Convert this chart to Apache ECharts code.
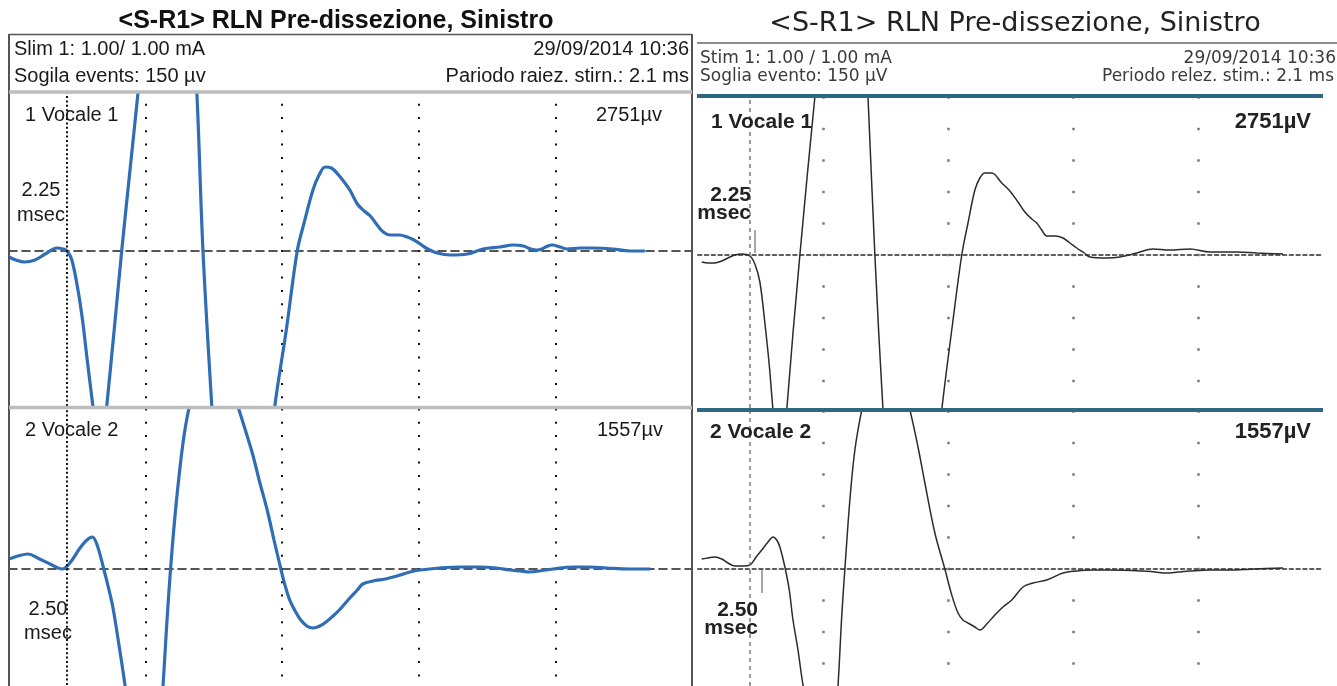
<!DOCTYPE html>
<html>
<head>
<meta charset="utf-8">
<script src="https://cdn.jsdelivr.net/npm/echarts@6/dist/echarts.min.js"></script>
<style>
html,body{margin:0;padding:0;background:#fff;}
#chart{width:1337px;height:686px;}
</style>
</head>
<body>
<div id="chart"></div>
<script>
// ---------------- text ----------------
const chartTitle = '<S-R1> RLN Pre-dissezione, Sinistro';
const leftHeader = ['Slim 1: 1.00/ 1.00 mA', '29/09/2014 10:36', 'Sogila events: 150 µv', 'Pariodo raiez. stirn.: 2.1 ms'];
const rightHeader = ['Stim 1: 1.00 / 1.00 mA', '29/09/2014 10:36', 'Soglia evento: 150 µV', 'Periodo relez. stim.: 2.1 ms'];
const channelNames = ['1 Vocale 1', '2 Vocale 2'];
const latencyLabels = ['2.25', '2.50'];
const latencyUnit = 'msec';
const amplitudeLeft = ['2751µv', '1557µv'];
const amplitudeRight = ['2751µV', '1557µV'];

// ---------------- axes (time in ms, amplitude in µV) ----------------
const timeMin = 0, timeMax = 10, timeDivision = 2;
const markerMsLeft = 0.85;
const markerMsRight = 0.83;
// short cursor ticks on the scanned recording: [time, from µV, to µV]
const cursorMarksRight = [[0.90, 250, 20], [1.02, -10, -240]];

// ---------------- traces [ms, µV] ----------------
const leftTopTrace = [
[0.00,-60],[0.10,-90],[0.23,-110],[0.38,-90],[0.53,-30],[0.70,30],[0.79,20],[0.85,0],[0.92,-90],[1.01,-390],
[1.08,-710],[1.14,-1060],[1.23,-1560],[1.29,-1890],[1.33,-2010],[1.38,-1890],[1.43,-1560],[1.54,-790],[1.65,0],
[1.77,800],[1.89,1590],[2.00,2360],[2.14,3110],[2.25,3610],[2.36,3810],[2.46,3710],[2.56,3310],[2.65,2710],
[2.75,1590],[2.84,0],[2.97,-1560],[3.06,-2490],[3.18,-3290],[3.35,-3690],[3.53,-3490],[3.70,-2690],[3.89,-1560],
[4.06,-790],[4.22,0],[4.32,280],[4.45,610],[4.54,760],[4.63,840],[4.72,830],[4.85,740],[4.99,610],[5.10,470],
[5.20,400],[5.29,350],[5.39,260],[5.48,190],[5.58,160],[5.72,160],[5.83,140],[5.93,110],[6.02,70],[6.13,20],
[6.27,-20],[6.46,-40],[6.71,-30],[6.94,20],[7.19,40],[7.38,60],[7.53,50],[7.64,20],[7.73,10],[7.80,20],[7.89,50],
[7.95,60],[8.07,40],[8.17,20],[8.36,30],[8.55,30],[8.84,20],[9.09,0],[9.31,0]
];
const leftBottomTrace = [
[0.00,100],[0.13,130],[0.28,150],[0.42,110],[0.60,50],[0.78,0],[0.89,60],[1.04,210],[1.14,290],[1.22,320],
[1.29,240],[1.38,20],[1.45,-170],[1.52,-380],[1.61,-760],[1.70,-1170],[1.80,-1710],[1.92,-2210],[2.04,-2310],
[2.14,-2010],[2.205,-1600],[2.255,-1170],[2.299,-670],[2.343,-210],[2.386,180],[2.430,530],[2.474,830],
[2.518,1100],[2.562,1330],[2.606,1510],[2.650,1650],[2.709,1800],[2.767,1920],[2.840,2020],[2.94,2090],
[3.05,2090],[3.15,2010],[3.25,1850],[3.35,1630],[3.46,1390],[3.57,1140],[3.67,870],[3.78,590],[3.88,290],
[3.97,30],[4.04,-160],[4.11,-310],[4.19,-420],[4.26,-500],[4.36,-570],[4.45,-590],[4.55,-570],[4.66,-520],
[4.76,-460],[4.85,-400],[4.99,-290],[5.10,-210],[5.18,-150],[5.33,-120],[5.51,-100],[5.68,-70],[5.87,-30],
[6.02,-10],[6.31,10],[6.60,20],[6.90,20],[7.14,10],[7.33,-10],[7.48,-20],[7.62,-30],[7.77,-20],[7.96,0],
[8.26,20],[8.51,20],[8.75,10],[9.09,0],[9.39,0]
];
const rightTopTrace = [
[0.06,-70],[0.16,-80],[0.27,-80],[0.38,-60],[0.48,-30],[0.59,0],[0.70,10],[0.83,-10],[0.91,-90],[0.99,-270],
[1.07,-680],[1.14,-1100],[1.20,-1550],[1.28,-2050],[1.33,-2150],[1.38,-2050],[1.42,-1550],[1.63,0],[1.87,1580],
[2.08,2850],[2.27,3650],[2.43,3850],[2.56,3550],[2.64,2600],[2.72,1580],[2.83,0],[2.96,-1550],[3.07,-2550],
[3.23,-3450],[3.42,-3650],[3.63,-3150],[3.79,-2250],[3.90,-1550],[4.06,-750],[4.22,0],[4.32,320],[4.43,650],
[4.51,770],[4.59,820],[4.70,820],[4.86,720],[4.99,640],[5.12,530],[5.23,430],[5.34,360],[5.42,320],[5.50,250],
[5.58,190],[5.71,190],[5.84,170],[5.95,120],[6.06,70],[6.18,20],[6.27,-20],[6.54,-30],[6.75,-20],[7.02,20],
[7.28,60],[7.55,50],[7.87,60],[8.19,30],[8.62,30],[8.94,20],[9.36,10]
];
const rightBottomTrace = [
[0.06,100],[0.16,110],[0.27,120],[0.38,100],[0.48,60],[0.59,30],[0.70,30],[0.83,40],[0.93,120],[1.02,190],
[1.12,270],[1.20,320],[1.26,290],[1.31,220],[1.39,20],[1.46,-210],[1.52,-510],[1.60,-810],[1.66,-1080],
[1.73,-1350],[1.82,-1750],[1.95,-2000],[2.08,-1950],[2.18,-1650],[2.24,-1170],[2.30,-470],[2.35,0],[2.43,690],
[2.51,1190],[2.62,1590],[2.75,1940],[2.91,2140],[3.07,2140],[3.23,1940],[3.39,1590],[3.52,1220],[3.63,860],
[3.79,360],[3.95,0],[4.06,-260],[4.16,-440],[4.24,-510],[4.32,-540],[4.43,-580],[4.51,-610],[4.62,-550],
[4.75,-460],[4.88,-380],[5.02,-310],[5.20,-180],[5.36,-140],[5.58,-110],[5.84,-40],[6.06,-20],[6.32,-10],
[6.59,-10],[7.12,-20],[7.31,-30],[7.50,-40],[7.68,-30],[7.87,-20],[8.19,-10],[8.46,-10],[8.91,0],[9.36,10]
];

// ---------------- styles / layout ----------------
const BLUE = '#2f6db5';
const SCAN_INK = '#2b2b2b';
const panels = [
  {trace: leftTopTrace, grid: {left: 9, top: 93, width: 683, height: 313}, yMin: -1550, yMax: 1580, kind: 'left', dotOffset: 2.6, marker: markerMsLeft},
  {trace: leftBottomTrace, grid: {left: 9, top: 409, width: 683, height: 320}, yMin: -1600, yMax: 1600, kind: 'left', dotOffset: 0.6, marker: markerMsLeft},
  {trace: rightTopTrace, grid: {left: 698, top: 98, width: 625, height: 310}, yMin: -1530, yMax: 1570, kind: 'right', dotOffset: 1.75, marker: markerMsRight, cursor: cursorMarksRight[0]},
  {trace: rightBottomTrace, grid: {left: 698, top: 412, width: 625, height: 314}, yMin: -1570, yMax: 1570, kind: 'right', dotOffset: 1.75, marker: markerMsRight, cursor: cursorMarksRight[1]}
];

const grids = [], xAxes = [], yAxes = [], series = [];
panels.forEach((p, i) => {
  const isLeft = p.kind === 'left';
  grids.push(Object.assign({show: false, containLabel: false, outerBoundsMode: 'none'}, p.grid));
  xAxes.push({
    gridIndex: i, type: 'value', min: timeMin, max: timeMax, interval: timeDivision,
    axisLabel: {show: false}, axisTick: {show: false},
    axisLine: {show: true, onZero: true, lineStyle: isLeft
      ? {color: '#1e1e1e', width: 1.6, type: [8, 5]}
      : {color: '#5e5e5e', width: 2, type: [3.5, 3.3]}},
    splitLine: {show: true, showMinLine: false, showMaxLine: false, lineStyle: isLeft
      ? {color: '#111', width: 2, type: [2, 11.3], dashOffset: p.dotOffset}
      : {color: '#7a7a7a', width: 2.5, type: [2.5, 29], dashOffset: p.dotOffset}}
  });
  yAxes.push({gridIndex: i, type: 'value', min: p.yMin, max: p.yMax, show: false,
    axisLine: {show: false}, splitLine: {show: false}, axisLabel: {show: false}, axisTick: {show: false}});
  const mlData = [{xAxis: p.marker}];
  if (p.cursor) {
    mlData.push([
      {coord: [p.cursor[0], p.cursor[1]], lineStyle: {color: '#8a8a8a', width: 1.5, type: 'solid'}},
      {coord: [p.cursor[0], p.cursor[2]]}
    ]);
  }
  series.push({
    type: 'line', xAxisIndex: i, yAxisIndex: i, data: p.trace, smooth: 0.35, symbol: 'none',
    silent: true, clip: true, emphasis: {disabled: true},
    lineStyle: isLeft ? {color: BLUE, width: 3.2} : {color: SCAN_INK, width: 1.5},
    markLine: {
      silent: true, symbol: ['none', 'none'], label: {show: false}, animation: false,
      lineStyle: isLeft ? {color: '#111', width: 2, type: [2, 2.4]} : {color: '#7a7a7a', width: 1.5, type: [4, 4]},
      data: mlData
    }
  });
});

function txt(x, y, s, font, align, color) {
  return {type: 'text', x: x, y: y, z: 100, silent: true,
    style: {text: s, font: font, fill: color, align: align, verticalAlign: 'middle', textAlign: align, textVerticalAlign: 'middle'}};
}
function ln(x1, y1, x2, y2, color, w) {
  return {type: 'line', z: 90, silent: true, shape: {x1: x1, y1: y1, x2: x2, y2: y2}, style: {stroke: color, lineWidth: w}};
}

const LS = '"Liberation Sans", Arial, sans-serif';
const DJ = '"DejaVu Sans", sans-serif';
const graphics = [
  // left panel frame
  ln(9, 34.5, 692, 34.5, '#555', 1.6),
  ln(9, 34, 9, 686, '#555', 2),
  ln(692, 34, 692, 686, '#555', 2),
  ln(9, 92, 692, 92, '#bdbdbd', 3.5),
  ln(9, 407.5, 692, 407.5, '#bdbdbd', 3.5),
  // left texts
  txt(336, 21, chartTitle, 'bold 25px ' + LS, 'center', '#111'),
  txt(14, 49, leftHeader[0], '20px ' + LS, 'left', '#1a1a1a'),
  txt(689, 49, leftHeader[1], '20px ' + LS, 'right', '#1a1a1a'),
  txt(14, 76, leftHeader[2], '20px ' + LS, 'left', '#1a1a1a'),
  txt(689, 76, leftHeader[3], '20px ' + LS, 'right', '#1a1a1a'),
  txt(25, 115, channelNames[0], '20px ' + LS, 'left', '#1a1a1a'),
  txt(662, 115, amplitudeLeft[0], '20px ' + LS, 'right', '#1a1a1a'),
  txt(41, 190, latencyLabels[0], '20px ' + LS, 'center', '#1a1a1a'),
  txt(41, 215, latencyUnit, '20px ' + LS, 'center', '#1a1a1a'),
  txt(25, 430, channelNames[1], '20px ' + LS, 'left', '#1a1a1a'),
  txt(663, 430, amplitudeLeft[1], '20px ' + LS, 'right', '#1a1a1a'),
  txt(48, 609, latencyLabels[1], '20px ' + LS, 'center', '#1a1a1a'),
  txt(48, 633, latencyUnit, '20px ' + LS, 'center', '#1a1a1a'),
  // right (scanned) panel
  ln(697, 43, 1337, 43, '#8c8c8c', 2),
  ln(697, 96, 1323, 96, '#2c6784', 4),
  ln(697, 410, 1323, 410, '#2c6784', 4),
  txt(1015, 24, chartTitle, '27px ' + DJ, 'center', '#222'),
  txt(700, 59, rightHeader[0], '17px ' + DJ, 'left', '#3a3a3a'),
  txt(1336, 59, rightHeader[1], '17px ' + DJ, 'right', '#3a3a3a'),
  txt(700, 77, rightHeader[2], '17px ' + DJ, 'left', '#3a3a3a'),
  txt(1334, 77, rightHeader[3], '17px ' + DJ, 'right', '#3a3a3a'),
  txt(711, 122, channelNames[0], 'bold 21px ' + LS, 'left', '#222'),
  txt(1311, 122, amplitudeRight[0], 'bold 22px ' + LS, 'right', '#222'),
  txt(751, 195, latencyLabels[0], 'bold 21px ' + LS, 'right', '#222'),
  txt(751, 213, latencyUnit, 'bold 21px ' + LS, 'right', '#222'),
  txt(710, 432, channelNames[1], 'bold 21px ' + LS, 'left', '#222'),
  txt(1311, 432, amplitudeRight[1], 'bold 22px ' + LS, 'right', '#222'),
  txt(758, 610, latencyLabels[1], 'bold 21px ' + LS, 'right', '#222'),
  txt(758, 628, latencyUnit, 'bold 21px ' + LS, 'right', '#222')
];

const chart = echarts.init(document.getElementById('chart'), null, {renderer: 'canvas', width: 1337, height: 686});
chart.setOption({
  animation: false,
  backgroundColor: '#ffffff',
  grid: grids,
  xAxis: xAxes,
  yAxis: yAxes,
  series: series,
  graphic: {elements: graphics}
});
</script>
</body>
</html>
